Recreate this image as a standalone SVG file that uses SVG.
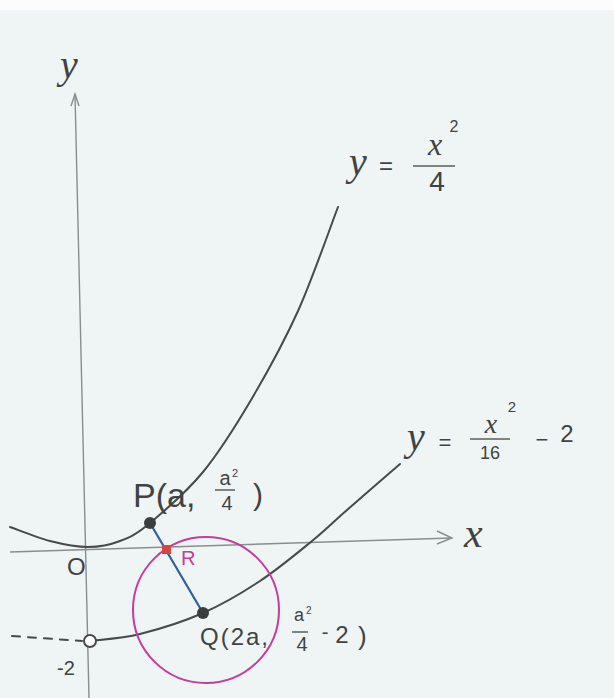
<svg xmlns="http://www.w3.org/2000/svg" width="614" height="698" viewBox="0 0 614 698">
<style>
.ax{stroke:#8a8d8d;stroke-width:1.4;fill:none}
.cv{stroke:#474a4a;stroke-width:2;fill:none;stroke-linecap:round}
.t{font-family:"Liberation Sans",Arial,sans-serif;fill:#404343}
.v{font-family:"Liberation Serif","Times New Roman",serif;font-style:italic;fill:#404343}
.m{text-anchor:middle}
.fl{stroke:#5a5d5d;stroke-width:1.5}
</style>
<rect x="0" y="0" width="614" height="698" fill="#eef5f4"/>
<rect x="0" y="0" width="614" height="10" fill="#fbfdfd"/>
<g id="axes">
<line class="ax" x1="75" y1="94" x2="89" y2="698"/>
<polyline class="ax" points="71,106 75,94 79,106"/>
<line class="ax" x1="10" y1="552" x2="452" y2="538"/>
<polyline class="ax" points="437,531 452,538 437,544" stroke-width="2"/>
<text class="v m" x="69" y="78" font-size="40">y</text>
<text class="v" x="464" y="547" font-size="42">x</text>
<text class="t" x="67" y="575" font-size="24">O</text>
<text class="t" x="57" y="675" font-size="20">-2</text>
</g>
<g id="curve1">
<path class="cv" d="M10,527 C16.7,529.3 37,537.7 50,541 C63,544.3 76.3,547 88,547 C99.7,547 109.7,545 120,541 C130.3,537 136.2,534.5 150,523 C163.8,511.5 186.2,492.5 203,472 C219.8,451.5 235.2,426.8 251,400 C266.8,373.2 283.5,343.2 298,311 C312.5,278.8 331.3,224.3 338,207"/>
<g id="label1">
<text class="v m" x="358" y="175" font-size="40">y</text>
<text class="t m" x="386" y="174" font-size="24">=</text>
<text class="v m" x="435" y="155" font-size="32">x</text>
<text class="t m" x="454" y="132" font-size="16">2</text>
<line class="fl" x1="413" y1="166" x2="455" y2="166"/>
<text class="t m" x="437" y="191" font-size="28">4</text>
</g>
</g>
<g id="curve2">
<path class="cv" d="M90,641 C98.3,639.8 121.2,638.7 140,634 C158.8,629.3 183,621.8 203,613 C223,604.2 241.8,593 260,581 C278.2,569 297.5,552.8 312,541 C326.5,529.2 332.3,522.8 347,510 C361.7,497.2 391.2,471.7 400,464"/>
<line class="cv" x1="12" y1="636" x2="82" y2="641" stroke-dasharray="8,8"/>
<g id="label2">
<text class="v m" x="416" y="450" font-size="40">y</text>
<text class="t m" x="445" y="450" font-size="22">=</text>
<text class="v m" x="491" y="433" font-size="28">x</text>
<text class="t m" x="512" y="412" font-size="15">2</text>
<line class="fl" x1="470" y1="439" x2="510" y2="439"/>
<text class="t m" x="490" y="459" font-size="18">16</text>
<text class="t m" x="542" y="447" font-size="22">−</text>
<text class="t m" x="567" y="442" font-size="24">2</text>
</g>
</g>
<g id="circle">
<circle cx="206" cy="610" r="73" fill="none" stroke="#c23d9c" stroke-width="2"/>
</g>
<g id="connectors">
<line x1="150" y1="523" x2="203" y2="613" stroke="#2f5f9e" stroke-width="2.2"/>
</g>
<g id="P">
<circle cx="150" cy="523" r="6" fill="#3b3e3e"/>
<text class="t" x="133" y="507" font-size="34">P(a,</text>
<text class="t m" x="225" y="485" font-size="20">a</text>
<text class="t" x="232" y="477" font-size="11">2</text>
<line class="fl" x1="215" y1="490" x2="235" y2="490"/>
<text class="t m" x="227" y="510" font-size="20">4</text>
<text class="t" x="253" y="505" font-size="30">)</text>
</g>
<g id="R">
<rect x="162" y="545" width="9" height="9" fill="#d9443f"/>
<text class="t" x="181" y="565" font-size="20" style="fill:#c23d9c">R</text>
</g>
<g id="Q">
<circle cx="203" cy="613" r="6" fill="#3b3e3e"/>
<text class="t" x="200" y="645" font-size="24" letter-spacing="2">Q(2a,</text>
<text class="t m" x="299" y="621" font-size="18">a</text>
<text class="t" x="306" y="614" font-size="10">2</text>
<line class="fl" x1="292" y1="632" x2="308" y2="632"/>
<text class="t m" x="302" y="651" font-size="20">4</text>
<text class="t m" x="325" y="639" font-size="20">-</text>
<text class="t m" x="342" y="643" font-size="24">2</text>
<text class="t" x="358" y="645" font-size="26">)</text>
</g>
<g id="start">
<circle cx="90" cy="641" r="6" fill="#ffffff" stroke="#474a4a" stroke-width="2"/>
</g>
</svg>
